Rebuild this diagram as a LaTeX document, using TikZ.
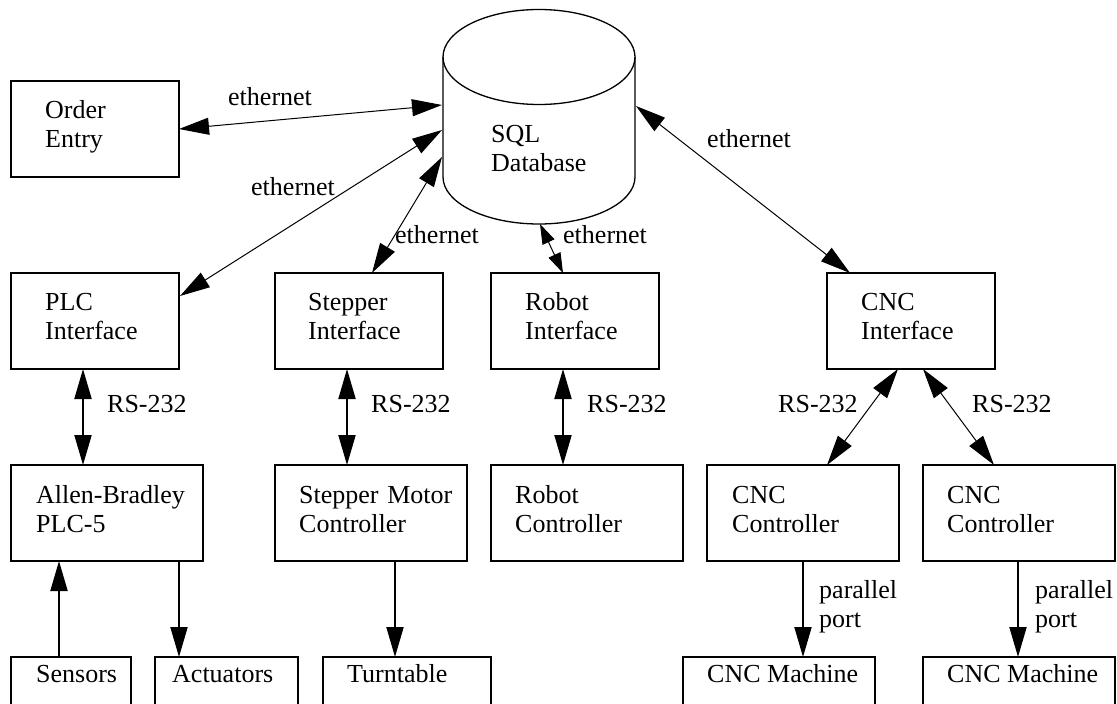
\documentclass[tikz,border=0pt]{standalone}
\usepackage{fontspec}
\setmainfont{Liberation Serif}
\usetikzlibrary{arrows.meta,calc}
\begin{document}
\begin{tikzpicture}[x=1pt,y=1pt,
  box/.style={draw, line width=2pt, inner sep=0pt, outer sep=0pt, anchor=north west},
  ibox/.style={box, minimum width=168pt, minimum height=96pt},
  cbox/.style={box, minimum width=192pt, minimum height=96pt},
  txt/.style={font=\fontsize{26}{29}\selectfont, inner sep=0pt, anchor=base west, text width=190pt, align=left},
  lab/.style={font=\fontsize{26}{29}\selectfont, inner sep=0pt, anchor=base west},
  bigtip/.tip={Triangle[length=30pt,width=17pt]},
  smalltip/.tip={Triangle[length=20pt,width=13pt]},
  thk/.style={line width=2pt},
  thn/.style={line width=1pt},
  cyl/.style={line width=1.3pt}
]
\clip (0,0) rectangle (1117,-704);

% database cylinder
\node[inner sep=0pt, outer sep=0pt, minimum width=192pt, minimum height=215pt] (db) at (539,-116.5) {};
\draw[cyl] (db.north west) ++(0,-48) -- ++(0,-120)
  arc[start angle=180, end angle=360, x radius=96, y radius=47] -- ++(0,120);
\draw[cyl] ($(db.north)+(0,-48)$) ellipse[x radius=96, y radius=47.5];
\node[txt] at ($(db.north west)+(48,-133)$) {SQL\\Database};

% top row
\node[ibox] (oe) at (11,-81) {};
\node[txt] at ($(oe.north west)+(34,-37)$) {Order\\Entry};
\node[ibox] (plci) at (11,-273) {};
\node[txt] at ($(plci.north west)+(34,-37)$) {PLC\\Interface};
\node[ibox] (stpi) at (275,-273) {};
\node[txt] at ($(stpi.north west)+(33,-37)$) {Stepper\\Interface};
\node[ibox] (robi) at (491,-273) {};
\node[txt] at ($(robi.north west)+(34,-37)$) {Robot\\Interface};
\node[ibox] (cnci) at (827,-273) {};
\node[txt] at ($(cnci.north west)+(34,-37)$) {CNC\\Interface};

% controllers
\node[cbox] (ab) at (11,-465) {};
\node[txt] at ($(ab.north west)+(25,-38)$) {Allen-Bradley\\PLC-5};
\node[cbox] (smc) at (275,-465) {};
\node[txt] at ($(smc.north west)+(24,-38)$) {Stepper Motor\\Controller};
\node[cbox] (rc) at (491,-465) {};
\node[txt] at ($(rc.north west)+(24,-38)$) {Robot\\Controller};
\node[cbox] (cc1) at (707,-465) {};
\node[txt] at ($(cc1.north west)+(25,-38)$) {CNC\\Controller};
\node[cbox] (cc2) at (923,-465) {};
\node[txt] at ($(cc2.north west)+(24,-38)$) {CNC\\Controller};

% bottom row
\node[box, minimum width=120pt, minimum height=96pt] (sen) at (11,-657) {};
\node[lab] at ($(sen.north west)+(25,-25)$) {Sensors};
\node[box, minimum width=143pt, minimum height=96pt] (act) at (155,-657) {};
\node[lab] at ($(act.north west)+(17,-25)$) {Actuators};
\node[box, minimum width=168pt, minimum height=96pt] (tt) at (323,-657) {};
\node[lab] at ($(tt.north west)+(24,-25)$) {Turntable};
\node[cbox] (cm1) at (683,-657) {};
\node[lab] at ($(cm1.north west)+(24,-25)$) {CNC Machine};
\node[cbox] (cm2) at (923,-657) {};
\node[lab] at ($(cm2.north west)+(24,-25)$) {CNC Machine};

% ethernet connectors
\draw[thn, bigtip-bigtip] (oe.east) -- ($(db.north west)+(-1,-96)$);
\draw[thn, bigtip-bigtip] ($(plci.north east)+(1,-23)$) -- ($(db.north west)+(-1,-121)$);
\draw[thn, bigtip-bigtip] ($(db.north west)+(-1,-148)$) -- ($(stpi.north west)+(97,0)$);
\draw[thn, smalltip-smalltip] ($(db.south west)+(97,0)$) -- ($(robi.north west)+(72,0)$);
\draw[thn, bigtip-bigtip] ($(db.north east)+(1,-97)$) -- ($(cnci.north west)+(23,0)$);

\node[lab] at (228,-105) {ethernet};
\node[lab] at (251,-195) {ethernet};
\node[lab] at (395,-243) {ethernet};
\node[lab] at (563,-243) {ethernet};
\node[lab] at (707,-147) {ethernet};

% RS-232 connectors
\draw[thk, bigtip-bigtip] ($(plci.south west)+(72,0)$) -- ($(ab.north west)+(72,0)$);
\draw[thk, bigtip-bigtip] ($(stpi.south west)+(72,0)$) -- ($(smc.north west)+(72,0)$);
\draw[thk, bigtip-bigtip] ($(robi.south west)+(72,0)$) -- ($(rc.north west)+(72,0)$);
\draw[thn, bigtip-bigtip] ($(cnci.south west)+(71,0)$) -- ($(cc1.north west)+(120,0)$);
\draw[thn, bigtip-bigtip] ($(cnci.south west)+(96,0)$) -- ($(cc2.north west)+(71,0)$);

\node[lab] at (107,-412) {RS-232};
\node[lab] at (371,-412) {RS-232};
\node[lab] at (587,-412) {RS-232};
\node[lab] at (778,-412) {RS-232};
\node[lab] at (972,-412) {RS-232};

% bottom connectors
\draw[thk, -bigtip] ($(sen.north west)+(48,0)$) -- ($(ab.south west)+(48,0)$);
\draw[thk, -bigtip] ($(ab.south west)+(168,0)$) -- ($(act.north west)+(24,0)$);
\draw[thk, -bigtip] ($(smc.south west)+(120,0)$) -- ($(tt.north west)+(72,0)$);
\draw[thk, -bigtip] ($(cc1.south west)+(96,0)$) -- ($(cm1.north west)+(120,0)$);
\draw[thk, -bigtip] ($(cc2.south west)+(95,0)$) -- ($(cm2.north west)+(95,0)$);

\node[txt] at (819,-598) {parallel\\port};
\node[txt] at (1035,-598) {parallel\\port};
\end{tikzpicture}
\end{document}
